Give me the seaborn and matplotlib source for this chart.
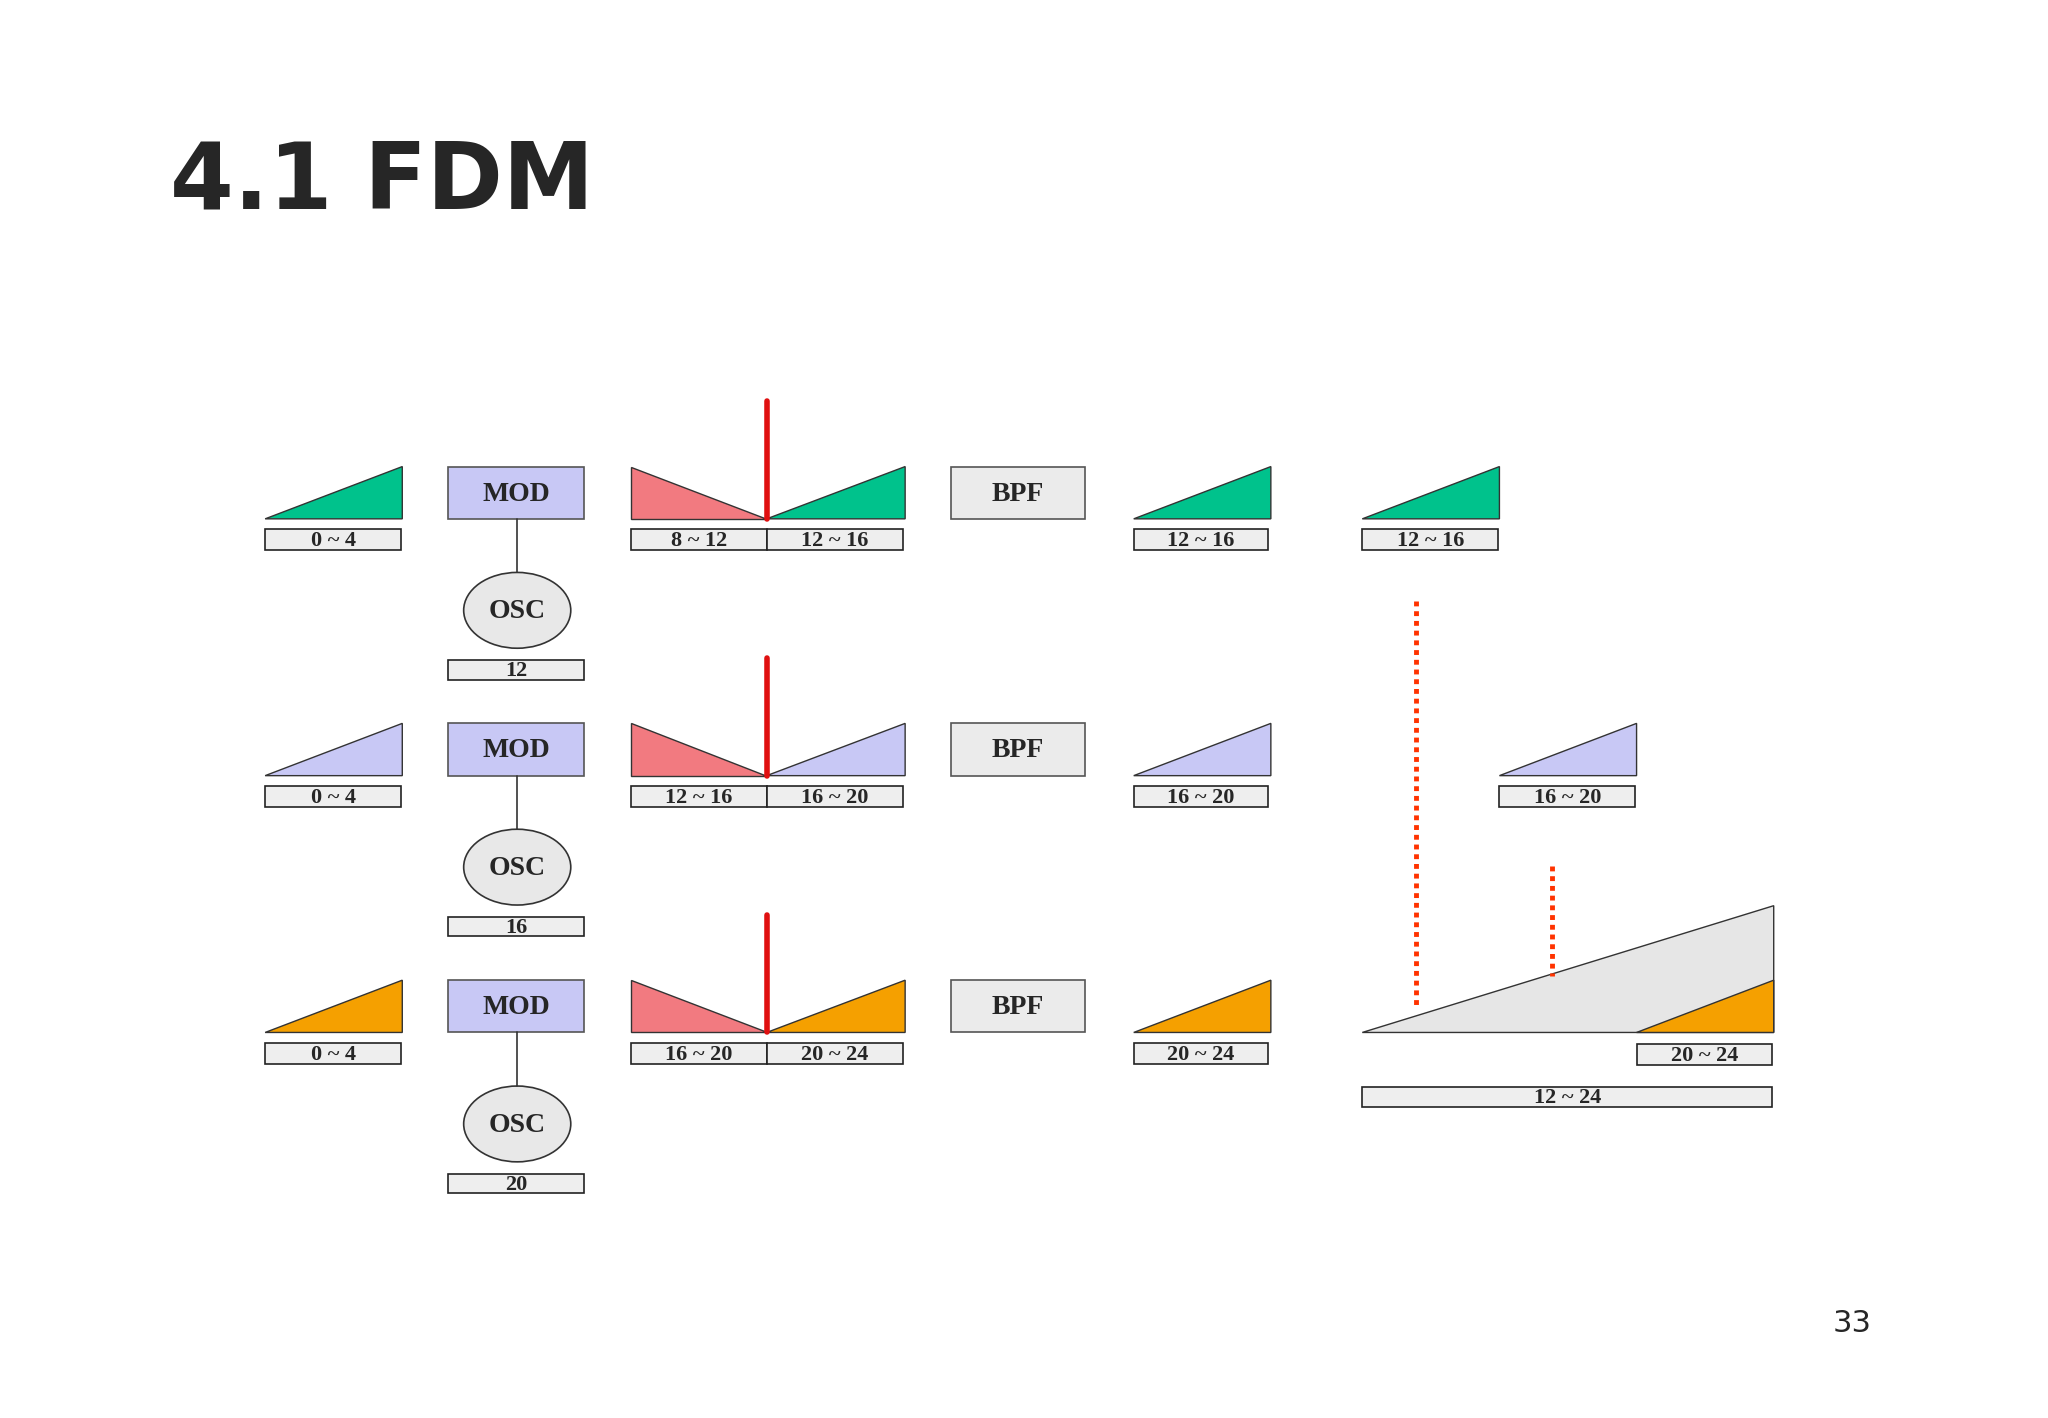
import matplotlib
matplotlib.use("Agg")
import matplotlib.pyplot as plt
import seaborn as sns
from matplotlib.patches import Polygon, Rectangle, Ellipse

sns.set_theme(style="white")
plt.rcParams['font.family'] = ['DejaVu Sans']

title = "4.1 FDM"
page = "33"
row_colors = ["#00C28C", "#C8C8F5", "#F5A000"]
input_labels = ["0 ~ 4", "0 ~ 4", "0 ~ 4"]
osc_labels = ["12", "16", "20"]
lsb_labels = ["8 ~ 12", "12 ~ 16", "16 ~ 20"]
usb_labels = ["12 ~ 16", "16 ~ 20", "20 ~ 24"]
out_labels = ["12 ~ 16", "16 ~ 20", "20 ~ 24"]
combined_label = "12 ~ 24"

fig = plt.figure(figsize=(20.48, 14.18), dpi=100)
ax = fig.add_axes([0, 0, 1, 1])
ax.set_xlim(0, 1568)
ax.set_ylim(1085, 0)
ax.axis("off")

SERIF = ["Liberation Serif", "DejaVu Serif"]

def tri(x0, x1, ytop, ybot, color, up_right=True):
    if up_right:
        pts = [(x0, ybot), (x1, ytop), (x1, ybot)]
    else:
        pts = [(x0, ytop), (x0, ybot), (x1, ybot)]
    ax.add_patch(Polygon(pts, closed=True, facecolor=color, edgecolor="#333333", lw=1))

def label(x0, x1, y0, h, text, size=16):
    ax.add_patch(Rectangle((x0, y0), x1 - x0, h, facecolor="#EEEEEE", edgecolor="#222222", lw=1.2))
    ax.text((x0 + x1) / 2, y0 + h / 2 + 1, text, ha="center", va="center",
            fontsize=size, fontweight="bold", family=SERIF)

def box(x0, x1, y0, y1, text, color):
    ax.add_patch(Rectangle((x0, y0), x1 - x0, y1 - y0, facecolor=color, edgecolor="#555555", lw=1.2))
    ax.text((x0 + x1) / 2, (y0 + y1) / 2 + 1, text, ha="center", va="center",
            fontsize=20, fontweight="bold", family=SERIF)

ax.text(130, 140, title, fontsize=66, fontweight="bold", va="center", ha="left")
ax.text(1418, 1013, page, fontsize=22, va="center", ha="center")

dy = 196.5
for i in range(3):
    t = 357 + i * dy
    b = t + 40
    c = row_colors[i]
    tri(203, 308, t, b, c)
    label(203, 307, b + 8, 16, input_labels[i])
    box(343, 447, t, b, "MOD", "#C8C8F5")
    ax.plot([396, 396], [b, b + 41], color="#333333", lw=1.2)
    ax.add_patch(Ellipse((396, t + 110), 82, 58, facecolor="#E8E8E8", edgecolor="#333333", lw=1.2))
    ax.text(396, t + 111, "OSC", ha="center", va="center", fontsize=20, fontweight="bold", family=SERIF)
    label(343, 447, t + 148, 15, osc_labels[i])
    tri(483, 587, t, b, "#F27A80", up_right=False)
    tri(587, 693, t, b, c)
    ax.plot([587, 587], [t - 50, b], color="#E01010", lw=4)
    label(483, 587, b + 8, 16, lsb_labels[i])
    label(587, 691, b + 8, 16, usb_labels[i])
    box(728, 831, t, b, "BPF", "#EBEBEB")
    tri(868, 973, t, b, c)
    label(868, 971, b + 8, 16, out_labels[i])

# multiplexed output
tri(1043, 1148, 357, 397, row_colors[0])
label(1043, 1147, 405, 16, out_labels[0])
tri(1148, 1253, 553.5, 593.5, row_colors[1])
label(1148, 1252, 601.5, 16, out_labels[1])
tri(1043, 1358, 693, 790, "#E6E6E6")
tri(1253, 1358, 750, 790, row_colors[2])
label(1253, 1357, 799, 16, out_labels[2])
label(1043, 1357, 832, 15, combined_label)
ax.plot([1084, 1084], [460, 770], color="#FF3300", lw=3.5, ls=(0, (1, 1)))
ax.plot([1188, 1188], [663, 747], color="#FF3300", lw=3.5, ls=(0, (1, 1)))

fig.savefig("out.png", dpi=100, facecolor="white")
